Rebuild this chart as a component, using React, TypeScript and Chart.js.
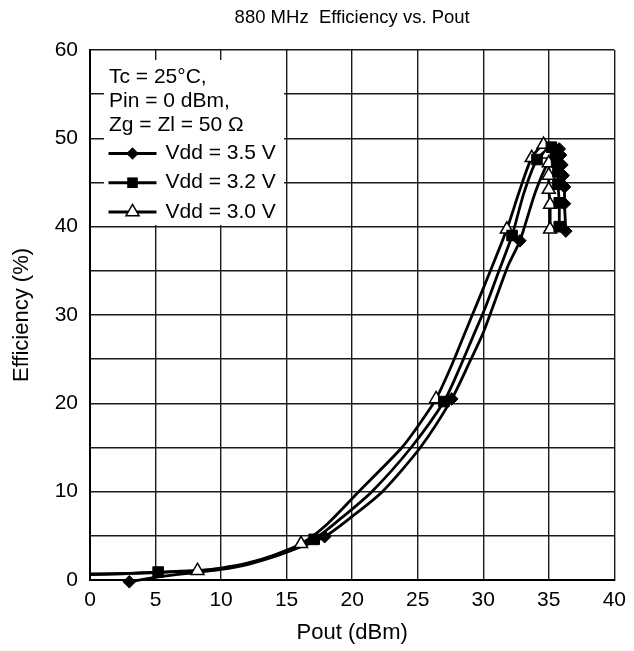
import React, { useEffect, useRef } from 'react';
import { Chart, registerables } from 'chart.js';

Chart.register(...registerables);

// ---- texts ----
const chartTitle = '880 MHz  Efficiency vs. Pout';
const xAxisTitle = 'Pout (dBm)';
const yAxisTitle = 'Efficiency (%)';
const conditionLines = ['Tc = 25°C,', 'Pin = 0 dBm,', 'Zg = Zl = 50 Ω'];
const seriesLabels = ['Vdd = 3.5 V', 'Vdd = 3.2 V', 'Vdd = 3.0 V'];

// ---- axes ----
const xMin = 0;
const xMax = 40;
const xStep = 5;
const yMin = 0;
const yMax = 60;
const yGridStep = 5;
const yLabelStep = 10;

// ---- Vdd = 3.5 V (diamonds) : curve [Pout, Eff] ----
const v35Curve: [number, number][] = [
  [3.0, -0.2], [5.2, 0.35], [8, 0.85], [10, 1.2], [12, 1.75], [14, 2.6], [16, 3.7],
  [17.9, 4.9], [20, 7.2], [22.3, 10], [25.2, 15], [27.6, 20.5], [29.0, 24.8], [30.0, 28],
  [31.0, 32], [31.9, 35.6], [32.8, 38.4], [34.0, 44.0], [35.0, 47.4], [35.8, 48.8], [35.9, 48.1],
  [36.0, 47.0], [36.1, 45.8], [36.2, 44.5], [36.2, 42.6], [36.3, 39.5],
];
const v35Marks: [number, number][] = [
  [3.0, -0.2], [17.9, 4.9], [27.6, 20.5], [32.8, 38.4], [35.8, 48.8], [35.9, 48.1],
  [36.0, 47.0], [36.1, 45.8], [36.2, 44.5], [36.2, 42.6], [36.3, 39.5],
];

// ---- Vdd = 3.2 V (squares) ----
const v32Curve: [number, number][] = [
  [0, 0.6], [2.5, 0.7], [5.2, 0.9], [8, 1.05], [10, 1.3], [12, 1.85], [14, 2.75],
  [15.5, 3.6], [17.1, 4.6], [19, 6.8], [21.5, 10], [24.5, 15], [27.0, 20.2], [28.2, 24],
  [29.2, 27.5], [30.2, 31], [31.2, 35], [32.2, 39.0], [33.1, 43.8], [34.1, 47.6], [35.2, 49.0],
  [35.5, 48.3], [35.6, 47.3], [35.7, 46.2], [35.7, 44.8], [35.8, 42.7], [35.8, 40.0],
];
const v32Marks: [number, number][] = [
  [5.2, 0.9], [17.1, 4.6], [27.0, 20.2], [32.2, 39.0], [34.1, 47.6], [35.2, 49.0],
  [35.5, 48.3], [35.6, 47.3], [35.7, 46.2], [35.7, 44.8], [35.8, 42.7], [35.8, 40.0],
];

// ---- Vdd = 3.0 V (open triangles) ----
const v30Curve: [number, number][] = [
  [0, 0.7], [3, 0.75], [5.2, 0.85], [8.2, 1.05], [10, 1.35], [12, 1.9], [14, 2.8],
  [16.1, 4.1], [18, 6.2], [20.5, 10], [23.8, 15], [25.2, 17.8], [26.4, 20.5], [27.5, 24],
  [28.5, 27.6], [29.5, 31.2], [30.6, 35.2], [31.8, 39.7], [32.8, 44.2], [33.7, 47.8], [34.6, 49.3],
  [34.9, 48.2], [35.0, 47.2], [35.0, 45.8], [35.0, 44.2], [35.1, 42.5], [35.1, 39.7],
];
const v30Marks: [number, number][] = [
  [8.2, 1.05], [16.1, 4.1], [26.4, 20.5], [31.8, 39.7], [33.7, 47.8], [34.6, 49.3],
  [34.9, 48.2], [35.0, 47.2], [35.0, 45.8], [35.0, 44.2], [35.1, 42.5], [35.1, 39.7],
];

const FONT = '"Liberation Sans", Arial, Helvetica, sans-serif';

const toXY = (arr: [number, number][]) => arr.map(([x, y]) => ({ x, y }));

type Style = 'diamond' | 'square' | 'triangle';

function drawMarker(ctx: CanvasRenderingContext2D, style: Style, x: number, y: number) {
  ctx.save();
  ctx.lineWidth = 1.5;
  ctx.strokeStyle = '#000';
  ctx.beginPath();
  if (style === 'diamond') {
    const r = 6.3;
    ctx.moveTo(x, y - r); ctx.lineTo(x + r, y); ctx.lineTo(x, y + r); ctx.lineTo(x - r, y);
    ctx.closePath();
    ctx.fillStyle = '#000';
    ctx.fill();
  } else if (style === 'square') {
    const h = 5.3;
    ctx.rect(x - h, y - h, 2 * h, 2 * h);
    ctx.fillStyle = '#000';
    ctx.fill();
  } else {
    const r = 7.5;
    ctx.moveTo(x, y - r);
    ctx.lineTo(x + r * 0.866, y + r * 0.5);
    ctx.lineTo(x - r * 0.866, y + r * 0.5);
    ctx.closePath();
    ctx.fillStyle = '#fff';
    ctx.fill();
    ctx.stroke();
  }
  ctx.restore();
}

const legendStyles: Style[] = ['diamond', 'square', 'triangle'];

const legendBoxPlugin = {
  id: 'legendBox',
  beforeDatasetsDraw(chart: any) {
    const { ctx, chartArea: ca } = chart;
    ctx.save();
    ctx.fillStyle = '#fff';
    ctx.fillRect(ca.left + 14, ca.top + 10, 180, 165);
    ctx.fillStyle = '#000';
    ctx.font = `21px ${FONT}`;
    ctx.textBaseline = 'middle';
    ctx.textAlign = 'left';
    conditionLines.forEach((t, i) => {
      ctx.fillText(t, ca.left + 19, ca.top + 27 + i * 24);
    });
    seriesLabels.forEach((t, i) => {
      const y = ca.top + 103.5 + i * 29.2;
      ctx.strokeStyle = '#000';
      ctx.lineWidth = 3;
      ctx.beginPath();
      ctx.moveTo(ca.left + 18.5, y);
      ctx.lineTo(ca.left + 66.5, y);
      ctx.stroke();
      drawMarker(ctx, legendStyles[i], ca.left + 42.5, y);
      ctx.fillStyle = '#000';
      ctx.fillText(t, ca.left + 75.5, y);
    });
    ctx.restore();
  },
};

function lineDataset(curve: [number, number][]) {
  return {
    type: 'line' as const,
    data: toXY(curve),
    borderColor: '#000',
    borderWidth: 2.8,
    pointRadius: 0,
    tension: 0.25,
    fill: false,
    order: 2,
    clip: false as const,
  };
}

function markerDataset(marks: [number, number][], style: Style) {
  const common = {
    type: 'line' as const,
    data: toXY(marks),
    showLine: false,
    order: 1,
    clip: false as const,
    pointBorderColor: '#000',
  };
  if (style === 'diamond') {
    return { ...common, pointStyle: 'rectRot', pointRadius: 6.3, pointBackgroundColor: '#000', pointBorderWidth: 1 };
  }
  if (style === 'square') {
    return { ...common, pointStyle: 'rect', pointRadius: 7.5, pointBackgroundColor: '#000', pointBorderWidth: 1 };
  }
  return { ...common, pointStyle: 'triangle', pointRadius: 7.5, pointBackgroundColor: '#fff', pointBorderWidth: 1.5 };
}

export default function App() {
  const canvasRef = useRef<HTMLCanvasElement | null>(null);

  useEffect(() => {
    if (!canvasRef.current) return;
    const chart = new Chart(canvasRef.current, {
      type: 'line',
      data: {
        datasets: [
          markerDataset(v35Marks, 'diamond'),
          markerDataset(v32Marks, 'square'),
          markerDataset(v30Marks, 'triangle'),
          lineDataset(v35Curve),
          lineDataset(v32Curve),
          lineDataset(v30Curve),
        ] as any,
      },
      options: {
        responsive: false,
        animation: false,
        events: [],
        layout: { padding: { left: 0, right: 15, top: 0, bottom: 0 } },
        plugins: {
          legend: { display: false },
          tooltip: { enabled: false },
          title: {
            display: true,
            text: chartTitle,
            fullSize: false,
            color: '#000',
            font: { family: FONT, size: 18.5, weight: 'normal' },
            padding: { top: 7, bottom: 20.8 },
          },
        },
        scales: {
          x: {
            type: 'linear',
            min: xMin,
            max: xMax,
            afterFit: (s: any) => { s.height = 71; },
            ticks: {
              stepSize: xStep,
              color: '#000',
              padding: 8,
              font: { family: FONT, size: 21 },
            },
            grid: { color: '#1a1a1a', lineWidth: 1.4, drawTicks: false },
            border: { color: '#000', width: 2 },
            title: {
              display: true,
              text: xAxisTitle,
              color: '#000',
              font: { family: FONT, size: 22 },
              padding: { top: 0, bottom: 5 },
            },
          },
          y: {
            type: 'linear',
            min: yMin,
            max: yMax,
            afterFit: (s: any) => { s.width = 90; },
            ticks: {
              stepSize: yGridStep,
              color: '#000',
              padding: 12,
              font: { family: FONT, size: 21 },
              callback: (v: any) => (Number(v) % yLabelStep === 0 ? String(v) : ''),
            },
            grid: { color: '#1a1a1a', lineWidth: 1.4, drawTicks: false },
            border: { color: '#000', width: 2 },
            title: {
              display: true,
              text: yAxisTitle,
              color: '#000',
              font: { family: FONT, size: 22 },
              padding: { top: 9, bottom: 0 },
            },
          },
        },
      },
      plugins: [legendBoxPlugin],
    });
    return () => chart.destroy();
  }, []);

  return (
    <div style={{ position: 'fixed', left: 0, top: 0, width: 634, height: 651, background: '#fff' }}>
      <canvas ref={canvasRef} width={634} height={651} style={{ display: 'block' }} />
    </div>
  );
}
